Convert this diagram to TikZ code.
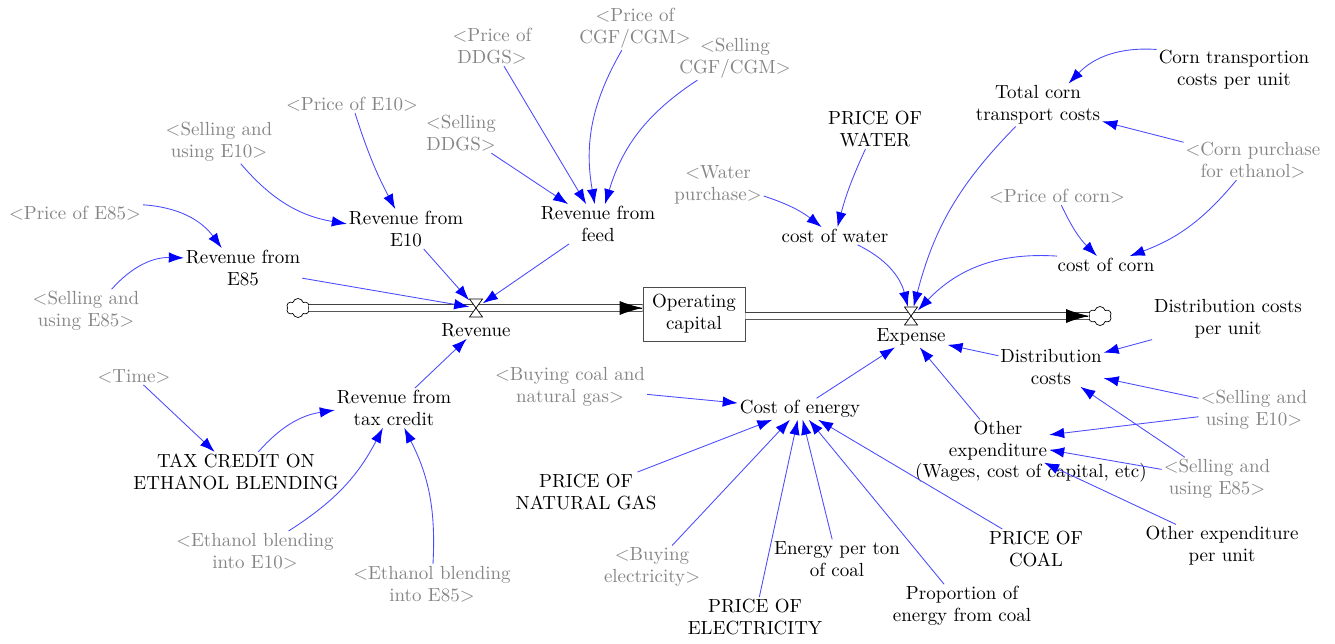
\documentclass[tikz,border=0pt]{standalone}
\usepackage{fontspec}
\usetikzlibrary{calc,arrows.meta,shapes.symbols}
\def\valve(#1){\draw[fill=white, line width=0.4pt] ($(#1)+(-6.5,-9)$) -- ($(#1)+(6.5,-9)$) -- ($(#1)+(-6.5,9)$) -- ($(#1)+(6.5,9)$) -- cycle;}

\begin{document}
\begin{tikzpicture}[x=0.02cm, y=-0.02cm,
		every node/.style={font=\rmfamily\fontsize{10.8}{12.5}\selectfont, align=center, inner sep=1pt},
		var/.style={text=black},
		shadow/.style={text=black!48},
		link/.style={draw=blue!70, line width=0.5pt, -{Latex[length=3mm,width=2.1mm,blue]}},
		pipe/.style={draw=black!75, double=white, double distance=1.2mm, line width=0.5pt},
		pipehead/.style={line width=0.5pt, -{Latex[length=4.6mm,width=2.8mm]}},
		stockbox/.style={draw=black!70, minimum width=2.04cm, minimum height=1.08cm},
		sink/.style={cloud, cloud puffs=6, draw, fill=white, minimum width=0.46cm, minimum height=0.38cm, inner sep=0pt},
		valvebox/.style={minimum width=0.26cm, minimum height=0.36cm, inner sep=0pt}]
		%%%%% START %%%%%
		
		\useasboundingbox (0,0) rectangle (1335,643);
		
		% stock and flows
		\node[stockbox] (capital) at (694,314) {Operating\\capital};
		\node[sink] (srcL) at (298,308) {};
		\node[sink] (sinkR) at (1100,316) {};
		\node[valvebox] (vRev) at (476,308) {};
		\node[valvebox] (vExp) at (911,316) {};
		\node[var] (revenue) at (476,330) {Revenue};
		\node[var] (expense) at (911,337) {Expense};
		
		\draw[pipe] (srcL.east) -- (capital.west |- vRev);
		\draw[pipehead] ($(capital.west |- vRev)+(-1,0)$) -- (capital.west |- vRev);
		\draw[pipe] (capital.east |- vExp) -- (sinkR.west);
		\draw[pipehead] ($(sinkR.west)+(-1,0)$) -- (sinkR.west);
		\valve(vRev);
		\valve(vExp);
		
		% revenue side
		\node[shadow] (pE85) at (75,213) {<Price of E85>};
		\node[shadow] (sE85) at (86,311) {<Selling and\\using E85>};
		\node[var] (revE85) at (243,268) {Revenue from\\E85};
		\node[shadow] (sE10) at (219,142) {<Selling and\\using E10>};
		\node[shadow] (pE10) at (352,104) {<Price of E10>};
		\node[var] (revE10) at (406,229) {Revenue from\\E10};
		\node[shadow] (sDDGS) at (461,133) {<Selling\\DDGS>};
		\node[shadow] (pDDGS) at (492,46) {<Price of\\DDGS>};
		\node[shadow] (pCGF) at (635,28) {<Price of\\CGF/CGM>};
		\node[shadow] (sCGF) at (735,58) {<Selling\\CGF/CGM>};
		\node[var] (revFeed) at (598,224) {Revenue from\\feed};
		\node[shadow] (time) at (134,376) {<Time>};
		\node[var] (taxRate) at (236,472) {TAX CREDIT ON\\ETHANOL BLENDING};
		\node[var] (revTax) at (394,408) {Revenue from\\tax credit};
		\node[shadow] (blendE10) at (255,551) {<Ethanol blending\\into E10>};
		\node[shadow] (blendE85) at (432,584) {<Ethanol blending\\into E85>};
		
		% expense side
		\node[shadow] (water) at (718,185) {<Water\\purchase>};
		\node[var] (pWater) at (875,129) {PRICE OF\\WATER};
		\node[var] (cWater) at (835,236) {cost of water};
		\node[var] (transport) at (1038,105) {Total corn\\transport costs};
		\node[var] (transUnit) at (1234,70) {Corn transportion\\costs per unit};
		\node[shadow] (cornBuy) at (1253,160) {<Corn purchase\\for ethanol>};
		\node[shadow] (pCorn) at (1057,196) {<Price of corn>};
		\node[var] (cCorn) at (1106,265) {cost of corn};
		\node[var] (distUnit) at (1228,319) {Distribution costs\\per unit};
		\node[var] (dist) at (1051,367) {Distribution\\costs};
		\node[shadow] (sE10b) at (1254,410) {<Selling and\\using E10>};
		\node[var] (other) at (998,441) {Other\\expenditure};
		\node[var] (otherNote) at (1031,473) {(Wages, cost of capital, etc)};
		\node[shadow] (sE85b) at (1217,479) {<Selling and\\using E85>};
		\node[var] (otherUnit) at (1222,546) {Other expenditure\\per unit};
		\node[var] (energy) at (800,409) {Cost of energy};
		\node[shadow] (buyCoal) at (570,387) {<Buying coal and\\natural gas>};
		\node[var] (pGas) at (586,492) {PRICE OF\\NATURAL GAS};
		\node[shadow] (buyElec) at (652,567) {<Buying\\electricity>};
		\node[var] (pElec) at (755,617) {PRICE OF\\ELECTRICITY};
		\node[var] (coalEnergy) at (837,559) {Energy per ton\\of coal};
		\node[var] (coalShare) at (962,606) {Proportion of\\energy from coal};
		\node[var] (pCoal) at (1036,549) {PRICE OF\\COAL};
		
		% links into revenue
		\draw[link] (pE85) to[bend left=25] (revE85);
		\draw[link] (sE85) to[bend left=25] (revE85);
		\draw[link] (sE10) to[bend right=20] (revE10);
		\draw[link] (pE10) to[bend right=5] (revE10);
		\draw[link] (sDDGS) -- (revFeed);
		\draw[link] (pDDGS) -- (revFeed);
		\draw[link] (pCGF) to[bend right=20] (revFeed);
		\draw[link] (sCGF) to[bend right=20] (revFeed);
		\draw[link] (revE85) -- (vRev);
		\draw[link] (revE10) -- (vRev);
		\draw[link] (revFeed) -- (vRev);
		\draw[link] (time) -- (taxRate);
		\draw[link] (taxRate) to[bend left=20] (revTax);
		\draw[link] (blendE10) to[bend right=15] (revTax);
		\draw[link] (blendE85) to[bend right=15] (revTax);
		\draw[link] (revTax) -- (revenue);
		
		% links into expense
		\draw[link] (water) to[bend left=10] (cWater);
		\draw[link] (pWater) to[bend right=5] (cWater);
		\draw[link] (cWater) to[bend left=25] (vExp);
		\draw[link] (transUnit) to[bend right=25] (transport);
		\draw[link] (cornBuy) -- (transport);
		\draw[link] (transport) to[bend right=15] (vExp);
		\draw[link] (pCorn) to[bend right=10] (cCorn);
		\draw[link] (cornBuy) to[bend left=15] (cCorn);
		\draw[link] (cCorn) to[bend right=25] (vExp);
		\draw[link] (distUnit) -- (dist);
		\draw[link] (sE10b) -- (dist);
		\draw[link] (sE85b) -- (dist);
		\draw[link] (sE10b) -- (other);
		\draw[link] (sE85b) -- (other);
		\draw[link] (otherUnit) -- (other);
		\draw[link] (dist) -- (expense);
		\draw[link] (other) -- (expense);
		\draw[link] (energy) -- (expense);
		\draw[link] (buyCoal) -- (energy);
		\draw[link] (pGas) -- (energy);
		\draw[link] (buyElec) -- (energy);
		\draw[link] (pElec) -- (energy);
		\draw[link] (coalEnergy) -- (energy);
		\draw[link] (coalShare) -- (energy);
		\draw[link] (pCoal) -- (energy);
		
		%%%%% END %%%%%
	\end{tikzpicture}
\end{document}
